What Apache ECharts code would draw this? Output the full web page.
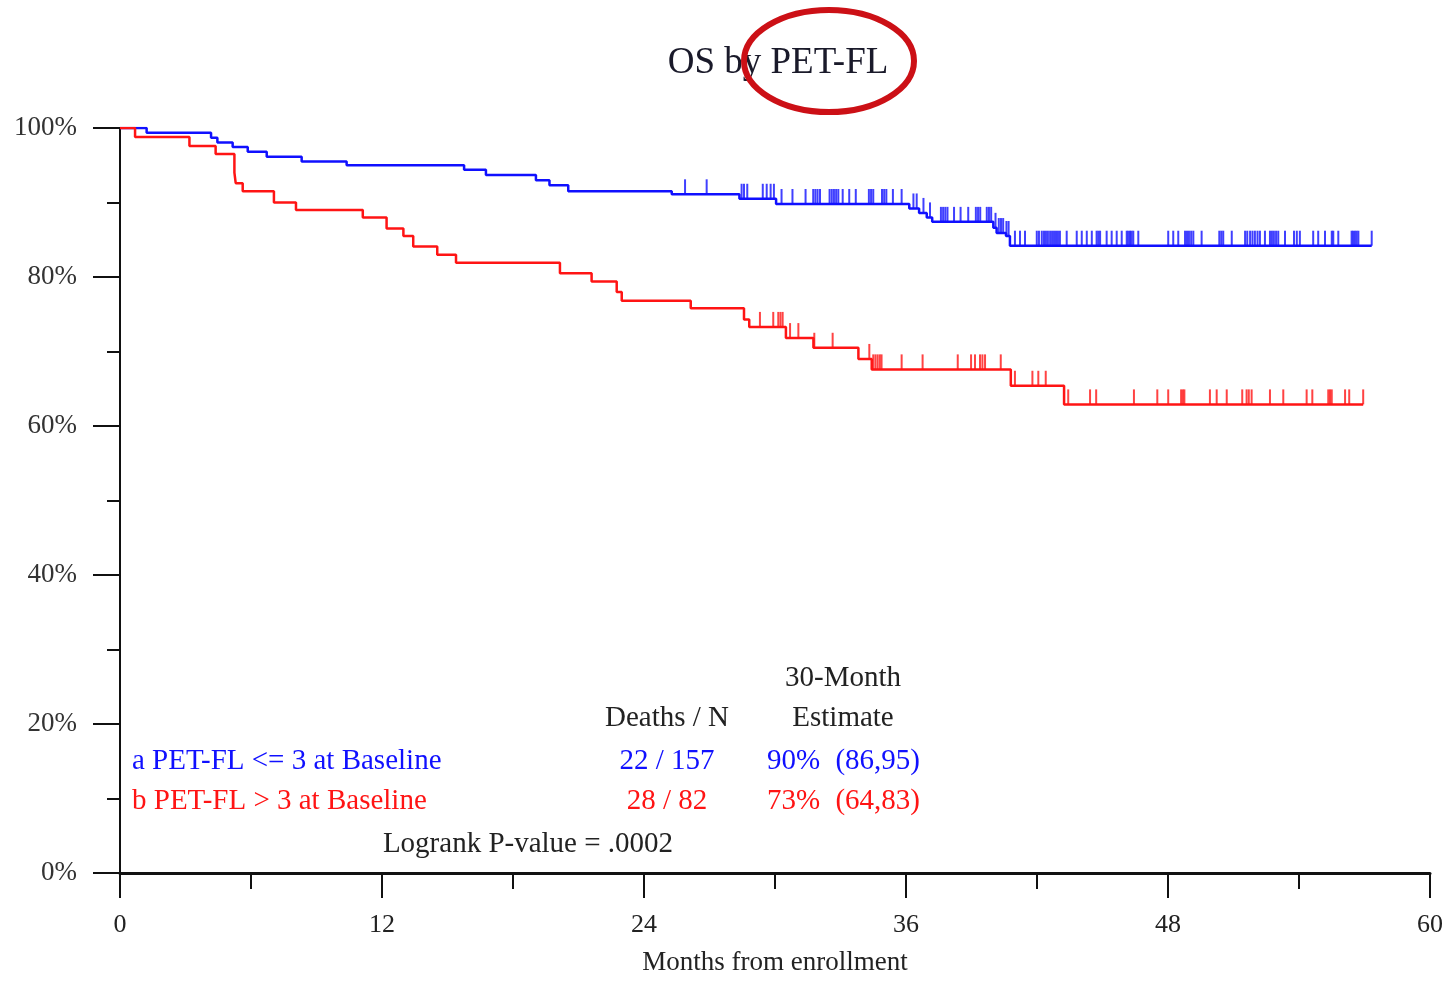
<!DOCTYPE html>
<html>
<head>
<meta charset="utf-8">
<script src="https://cdn.jsdelivr.net/npm/echarts@6/dist/echarts.min.js"></script>
<style>
  html, body { margin: 0; padding: 0; background: #ffffff; overflow: hidden; }
  #chart { width: 1451px; height: 981px; }
</style>
</head>
<body>
<div id="chart"></div>
<script>
// ---------- data ----------
const chartTitle = 'OS by PET-FL';
const xAxisName = 'Months from enrollment';
const xMin = 0, xMax = 60, xStep = 12;
const yMin = 0, yMax = 100, yStep = 20;

// Group a: PET-FL <= 3 (blue) — event times (months) and survival (%) after each event
const blueStepTimes = [0, 1.22, 4.17, 4.46, 5.16, 5.85, 6.72, 8.32, 10.38, 15.76, 16.76, 19.05, 19.67, 20.53, 25.27, 28.37, 30.05, 36.15, 36.6, 36.95, 37.2, 40.0, 40.15, 40.58, 40.76];
const blueStepSurv  = [100, 99.36, 98.7, 98.05, 97.45, 96.8, 96.15, 95.5, 95.0, 94.4, 93.7, 93.0, 92.3, 91.5, 91.1, 90.5, 89.8, 89.2, 88.6, 88.0, 87.4, 86.6, 85.9, 85.5, 84.2];
const blueCensorTimes = [25.88, 26.87, 28.47, 28.58, 28.73, 29.44, 29.62, 29.8, 29.95,
  30.3, 30.8, 31.4, 31.75, 31.85, 31.95, 32.06, 32.5, 32.6, 32.7, 32.8, 32.9,
  33.1, 33.4, 33.7, 34.3, 34.4, 34.5, 34.9, 35.0, 35.1, 35.4, 35.8,
  36.34, 36.49, 36.8, 37.1, 37.6, 37.7, 37.8, 37.9, 38.2, 38.5, 38.85, 39.2, 39.3, 39.4, 39.7, 39.8, 39.9,
  40.1, 40.25, 40.35, 40.45, 40.6, 40.7,
  40.99, 41.22, 41.45, 41.99, 42.09, 42.22, 42.32, 42.41, 42.5, 42.6, 42.69, 42.78, 42.87, 42.96, 43.05,
  43.36, 43.82, 44.05, 44.28, 44.51, 44.73, 44.81, 44.89, 45.19, 45.42, 45.65, 45.88, 46.11, 46.18, 46.26, 46.33, 46.41, 46.64,
  48.01, 48.24, 48.47, 48.78, 48.87, 48.96, 49.06, 49.16, 49.54, 50.35, 50.44, 50.53, 50.92,
  51.53, 51.63, 51.76, 51.87, 51.98, 52.1, 52.21, 52.44, 52.67, 52.76, 52.85, 52.95, 53.05, 53.36,
  53.77, 53.9, 54.04, 54.65, 54.88, 55.19, 55.5, 55.57, 55.8, 56.41, 56.48, 56.56, 56.64, 56.72, 57.33];

// Group b: PET-FL > 3 (red)
const redStepTimes = [0, 0.69, 3.18, 4.38, 5.24, 5.3, 5.62, 7.05, 8.06, 11.12, 12.21, 12.98, 13.43, 14.53, 15.39, 20.15, 21.6, 22.75, 22.98, 26.14, 28.58, 28.82, 30.5, 31.76, 33.82, 34.43, 40.8, 43.24];
const redStepSurv  = [100, 98.8, 97.6, 96.5, 94.0, 92.6, 91.5, 90.0, 89.0, 88.0, 86.5, 85.5, 84.1, 83.0, 81.9, 80.5, 79.4, 78.0, 76.8, 75.8, 74.3, 73.3, 71.8, 70.5, 69.0, 67.6, 65.4, 62.9];
const redCensorTimes = [29.31, 29.92, 30.15, 30.25, 30.35, 30.69, 31.07, 31.8, 32.64, 34.32,
  34.5, 34.6, 34.7, 34.8, 34.88, 35.8, 36.76, 38.37, 38.98, 39.16, 39.39, 39.5, 39.62, 40.34,
  40.99, 41.79, 42.06, 42.4, 43.43, 44.43, 44.71, 46.44, 47.51, 48.01, 48.6, 48.68, 48.75,
  49.92, 50.23, 50.69, 51.4, 51.6, 51.7, 51.83, 52.67, 53.28, 54.35, 54.61, 55.34, 55.42, 55.5,
  56.11, 56.3, 56.94];

// Summary table
const tableHeader1 = ['', '', '30-Month'];
const tableHeader2 = ['', 'Deaths / N', 'Estimate'];
const groupLabels = ['a PET-FL <= 3 at Baseline', 'b PET-FL > 3 at Baseline'];
const groupDeaths = ['22 / 157', '28 / 82'];
const groupEstimate = ['90%', '73%'];
const groupCI = ['(86,95)', '(64,83)'];
const logrankText = 'Logrank P-value = .0002';

// ---------- helpers ----------
const BLUE = '#1010ff';
const RED = '#ff1414';
const FONT = "'Liberation Serif', 'Times New Roman', serif";
const TFONT = '29px ' + FONT;

function survAt(times, surv, t) {
  let s = surv[0];
  for (let i = 0; i < times.length; i++) { if (times[i] <= t + 1e-9) s = surv[i]; }
  return s;
}
function curve(times, surv, censor) {
  const d = times.map((t, i) => [t, surv[i]]);
  const lastT = Math.max(times[times.length - 1], censor[censor.length - 1]);
  d.push([lastT, surv[surv.length - 1]]);
  return d;
}
function censorPts(times, surv, censor) {
  return censor.map(t => [t, survAt(times, surv, t)]);
}

const chart = echarts.init(document.getElementById('chart'), null, { renderer: 'canvas', width: 1451, height: 981 });

const tickMark = (color) => ({
  type: 'scatter',
  symbol: 'rect',
  symbolSize: [2, 15],
  symbolOffset: [0, -7.5],
  itemStyle: { color: color },
  silent: true,
  z: 3
});

function txt(x, y, text, fill, align) {
  return { type: 'text', x: x, y: y, z: 5,
    style: { text: text, font: TFONT, fill: fill, textAlign: align, textVerticalAlign: 'middle' } };
}

const option = {
  animation: false,
  backgroundColor: '#ffffff',
  title: {
    text: chartTitle,
    left: 773, top: 40, textAlign: 'center',
    textStyle: { fontFamily: FONT, fontSize: 37, fontWeight: 'normal', color: '#1a1a2a' }
  },
  grid: { left: 120, top: 128, width: 1310, height: 750, containLabel: false },
  xAxis: {
    type: 'value', min: xMin, max: xMax, interval: xStep,
    name: xAxisName, nameLocation: 'middle', nameGap: 76,
    nameTextStyle: { fontFamily: FONT, fontSize: 27, color: '#222' },
    axisLine: { show: true, lineStyle: { color: '#111', width: 3 } },
    axisTick: { show: true, length: 25, lineStyle: { color: '#111', width: 2 } },
    minorTick: { show: true, splitNumber: 2, length: 16, lineStyle: { color: '#111', width: 2 } },
    axisLabel: { margin: 39, fontFamily: FONT, fontSize: 26, color: '#222' },
    splitLine: { show: false }
  },
  yAxis: {
    type: 'value', min: yMin, max: yMax, interval: yStep,
    axisLine: { show: true, lineStyle: { color: '#111', width: 2 } },
    axisTick: { show: true, length: 27, lineStyle: { color: '#111', width: 2 } },
    minorTick: { show: true, splitNumber: 2, length: 13, lineStyle: { color: '#111', width: 2 } },
    axisLabel: { margin: 43, fontFamily: FONT, fontSize: 27, color: '#333', formatter: '{value}%',
      padding: [9, 0, 0, 0] },
    splitLine: { show: false }
  },
  series: [
    {
      type: 'line', step: 'end', showSymbol: false, symbol: 'none',
      data: curve(blueStepTimes, blueStepSurv, blueCensorTimes),
      lineStyle: { color: BLUE, width: 2.5 }, z: 4
    },
    Object.assign(tickMark(BLUE), { data: censorPts(blueStepTimes, blueStepSurv, blueCensorTimes) }),
    {
      type: 'line', step: 'end', showSymbol: false, symbol: 'none',
      data: curve(redStepTimes, redStepSurv, redCensorTimes),
      lineStyle: { color: RED, width: 2.5 }, z: 4
    },
    Object.assign(tickMark(RED), { data: censorPts(redStepTimes, redStepSurv, redCensorTimes) })
  ],
  graphic: [
    // annotation ellipse around "PET-FL"
    { type: 'ellipse', shape: { cx: 829, cy: 61, rx: 85, ry: 51 },
      style: { fill: 'none', stroke: '#cc1016', lineWidth: 6 }, z: 10 },
    txt(843, 678, tableHeader1[2], '#222', 'center'),
    txt(667, 718, tableHeader2[1], '#222', 'center'),
    txt(843, 718, tableHeader2[2], '#222', 'center'),
    txt(132, 761, groupLabels[0], BLUE, 'left'),
    txt(667, 761, groupDeaths[0], BLUE, 'center'),
    txt(767, 761, groupEstimate[0], BLUE, 'left'),
    txt(920, 761, groupCI[0], BLUE, 'right'),
    txt(132, 801, groupLabels[1], RED, 'left'),
    txt(667, 801, groupDeaths[1], RED, 'center'),
    txt(767, 801, groupEstimate[1], RED, 'left'),
    txt(920, 801, groupCI[1], RED, 'right'),
    txt(528, 844, logrankText, '#222', 'center')
  ]
};
chart.setOption(option);
</script>
</body>
</html>
